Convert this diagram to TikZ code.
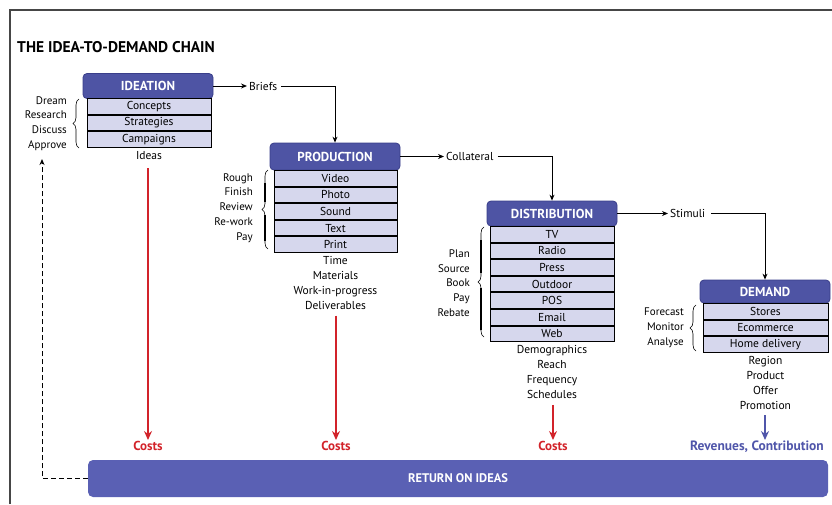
\documentclass[tikz,border=0pt]{standalone}
\usepackage{fontspec}
\setmainfont{PT Sans}
\usetikzlibrary{arrows.meta,decorations.pathreplacing,calc}
\definecolor{hdr}{RGB}{78,84,164}
\definecolor{hdrline}{RGB}{58,62,138}
\definecolor{rowfill}{RGB}{214,215,237}
\definecolor{costred}{RGB}{210,35,42}
\definecolor{revblue}{RGB}{80,86,170}
\definecolor{barfill}{RGB}{90,96,180}
\definecolor{framecol}{RGB}{70,70,70}
\begin{document}
\begin{tikzpicture}[x=1pt,y=-1pt,
  hdrbox/.style={draw=hdrline,line width=0.8pt,fill=hdr,rounded corners=4pt,minimum width=130pt,minimum height=25pt,inner sep=0pt,text=white,font=\fontsize{13}{13}\selectfont\bfseries},
  rowbox/.style={draw=black,line width=1pt,fill=rowfill,minimum width=124pt,minimum height=15.6pt,inner sep=0pt,anchor=north,font=\fontsize{11.5}{12}\selectfont},
  note/.style={font=\fontsize{11.5}{15}\selectfont,align=center,inner sep=0pt,anchor=north},
  side/.style={font=\fontsize{11}{14.8}\selectfont,align=right,inner sep=0pt,anchor=east},
  flow/.style={-{Stealth[length=6pt,width=5pt]},line width=1pt},
  cost/.style={-{Stealth[length=9pt,width=8pt]},line width=1.3pt,draw=costred},
  revarrow/.style={-{Stealth[length=9pt,width=8pt]},line width=1.3pt,draw=revblue},
  costtxt/.style={text=costred,font=\fontsize{13}{13}\selectfont\bfseries,inner sep=1pt,anchor=north},
  brc/.style={decorate,decoration={brace,amplitude=6pt},line width=0.6pt},
  bar/.style={line width=2.6pt}
]
\useasboundingbox (0,0) rectangle (832,504);
% frame
\draw[framecol,line width=1.5pt] (10,504) -- (10,10) -- (832,10);
\node[anchor=west,inner sep=0pt,font=\fontsize{15.5}{15.5}\selectfont\bfseries] (title) at (17,47) {THE IDEA-TO-DEMAND CHAIN};

% ---------------- IDEATION
\node[hdrbox] (ih) at (148,86) {IDEATION};
\node[rowbox] (i1) at (149,98) {Concepts};
\node[rowbox] (i2) at (i1.south) {Strategies};
\node[rowbox] (i3) at (i2.south) {Campaigns};
\node[note] (ib) at ([yshift=-3pt]i3.south) {Ideas};
\node[side] (il) at (67,123.5) {Dream\\Research\\Discuss\\Approve};
\draw[brc] (79,148) -- (79,99);

% ---------------- PRODUCTION
\node[hdrbox,minimum height=27pt] (ph) at (335,156.5) {PRODUCTION};
\node[rowbox,minimum width=123pt] (p1) at (335.5,170) {Video};
\node[rowbox,minimum width=123pt] (p2) at (p1.south) {Photo};
\node[rowbox,minimum width=123pt] (p3) at (p2.south) {Sound};
\node[rowbox,minimum width=123pt] (p4) at (p3.south) {Text};
\node[rowbox,minimum width=123pt] (p5) at (p4.south) {Print};
\node[note] (pb) at ([yshift=-3pt]p5.south) {Time\\Materials\\Work-in-progress\\Deliverables};
\node[side] (pl) at (253,208) {Rough\\Finish\\Review\\Re-work\\Pay};
\draw[brc] (268,249) -- (268,170);
\draw[bar] (265,183) -- (265,202);
\draw[bar] (265,215) -- (265,241);

% ---------------- DISTRIBUTION
\node[hdrbox] (dh) at (552,213.5) {DISTRIBUTION};
\node[rowbox] (d1) at (552,226) {TV};
\node[rowbox] (d2) at (d1.south) {Radio};
\node[rowbox] (d3) at (d2.south) {Press};
\node[rowbox] (d4) at (d3.south) {Outdoor};
\node[rowbox] (d5) at (d4.south) {POS};
\node[rowbox] (d6) at (d5.south) {Email};
\node[rowbox] (d7) at (d6.south) {Web};
\node[note] (db) at ([yshift=-3pt]d7.south) {Demographics\\Reach\\Frequency\\Schedules};
\node[side] (dl) at (470,283) {Plan\\Source\\Book\\Pay\\Rebate};
\draw[brc] (484,337) -- (484,227);
\draw[bar] (481,240) -- (481,273);
\draw[bar] (481,288) -- (481,330);

% ---------------- DEMAND
\node[hdrbox,minimum height=23pt] (mh) at (765,291.5) {DEMAND};
\node[rowbox,minimum width=125pt] (m1) at (765.5,303) {Stores};
\node[rowbox,minimum width=125pt] (m2) at (m1.south) {Ecommerce};
\node[rowbox,minimum width=125pt] (m3) at (m2.south) {Home delivery};
\node[note] (mb) at ([yshift=-3pt]m3.south) {Region\\Product\\Offer\\Promotion};
\node[side] (ml) at (684,328) {Forecast\\Monitor\\Analyse};
\draw[brc] (696,351) -- (696,305);

% ---------------- flow labels and connectors
\node[anchor=west,inner sep=2pt,font=\fontsize{11.5}{12}\selectfont] (br) at (247,86) {Briefs};
\node[anchor=west,inner sep=2pt,font=\fontsize{11.5}{12}\selectfont] (co) at (444,156.5) {Collateral};
\node[anchor=west,inner sep=2pt,font=\fontsize{11.5}{12}\selectfont] (st) at (668,213.5) {Stimuli};
\draw[flow] (ih.east) -- (br.west);
\draw[flow] ([xshift=2pt]br.east) -| (ph.north);
\draw[flow] (ph.east) -- (co.west);
\draw[flow] ([xshift=2pt]co.east) -| (dh.north);
\draw[flow] (dh.east) -- (st.west);
\draw[flow] ([xshift=4pt]st.east) -| (mh.north);

% ---------------- costs
\node[costtxt] (c1) at (148,440) {Costs};
\node[costtxt] (c2) at (336,440) {Costs};
\node[costtxt] (c3) at (553,440) {Costs};
\node[text=revblue,font=\fontsize{13.5}{13.5}\selectfont\bfseries,inner sep=1pt,anchor=north west] (rv) at (689,440) {Revenues, Contribution};
\draw[cost] ($(c1.north |- ib.south)+(0,9)$) -- (c1.north);
\draw[cost] ($(c2.north |- pb.south)+(0,6)$) -- (c2.north);
\draw[cost] ($(c3.north |- db.south)+(0,6)$) -- (c3.north);
\coordinate (rvtop) at (765,440);
\draw[revarrow] ($(rvtop |- mb.south)+(0,6)$) -- (rvtop);

% ---------------- return bar
\node[fill=barfill,rounded corners=5pt,minimum width=740pt,minimum height=37pt,inner sep=0pt,text=white,font=\fontsize{12.5}{12.5}\selectfont\bfseries] (roi) at (458,478.5) {RETURN ON IDEAS};
\coordinate (dtop) at (42,159);
\draw[dash pattern=on 5pt off 3pt,line width=1pt,-{Stealth[length=6pt,width=5pt]}] (roi.west) -| (dtop);
\end{tikzpicture}
\end{document}
